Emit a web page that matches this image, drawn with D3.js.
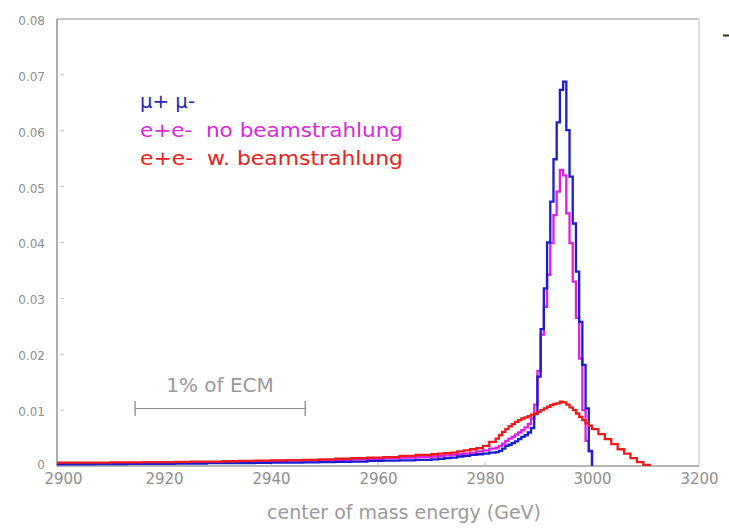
<!DOCTYPE html>
<html>
<head>
<meta charset="utf-8">
<script src="https://cdn.jsdelivr.net/npm/d3@7"></script>
<style>
  body { margin: 0; background: #fff; }
  svg { display: block; }
  text { font-family: "DejaVu Sans", sans-serif; }
</style>
</head>
<body>
<script>
// axis ticks
var xTickValues = [2900, 2920, 2940, 2960, 2980, 3000, 3020];
var xTickLabels = ["2900", "2920", "2940", "2960", "2980", "3000", "3200"];
var yTickValues = [0, 0.01, 0.02, 0.03, 0.04, 0.05, 0.06, 0.07, 0.08];
var yTickLabels = ["0", "0.01", "0.02", "0.03", "0.04", "0.05", "0.06", "0.07", "0.08"];

// histogram bin edges (GeV): coarse in the tail, fine around the peak
var binEdges = [
  2900, 2901, 2904, 2907, 2910, 2913, 2916, 2919, 2922, 2925, 2928, 2931, 2934,
  2937, 2940, 2943, 2946, 2949, 2952, 2955, 2958, 2961, 2964, 2967, 2970,
  2971.2, 2972.4, 2973.6, 2974.8, 2976, 2977.2, 2978.4, 2979.6, 2980.8, 2982,
  2982.6, 2983.2, 2983.8, 2984.4, 2985, 2985.6, 2986.2, 2986.8, 2987.4, 2988,
  2988.6, 2989.2, 2989.8, 2990.4, 2991, 2991.6, 2992.2, 2992.8, 2993.4, 2994,
  2994.6, 2995.2, 2995.8, 2996.4, 2997, 2997.6, 2998.2, 2998.8, 2999.4, 3000,
  3001.2, 3002.4, 3003.6, 3004.8, 3006, 3007.2, 3008.4, 3009.6, 3010.8, 3012
];

// mu+ mu-
var muMu = [
  0.0003,
  0.0003, 0.0003, 0.00035, 0.00035, 0.0004, 0.0004, 0.0004, 0.00045, 0.00045, 0.0005,
  0.0005, 0.0005, 0.00055, 0.0006, 0.0006, 0.00065, 0.0007, 0.00075, 0.0008, 0.0009,
  0.00095, 0.001, 0.0011,
  0.0012, 0.0013, 0.0014, 0.0015, 0.0017, 0.0018, 0.0020, 0.0021, 0.0022, 0.0024,
  0.0025, 0.0027, 0.0031, 0.0036, 0.0038, 0.0041, 0.0044, 0.0048, 0.0052, 0.0055,
  0.0060, 0.0068, 0.0093, 0.0160, 0.0245, 0.0318, 0.0400, 0.0473, 0.0549, 0.0615,
  0.0673, 0.0688, 0.0601, 0.0518, 0.0434, 0.0348, 0.0258, 0.0181, 0.0103, 0.0027,
  0, 0, 0, 0, 0, 0, 0, 0, 0, 0
];

// e+e- no beamstrahlung
var eeNoBeam = [
  0.0005,
  0.0005, 0.0005, 0.0005, 0.00055, 0.00055, 0.0006, 0.0006, 0.00065, 0.0007, 0.0007,
  0.00075, 0.0008, 0.00085, 0.0009, 0.00095, 0.001, 0.00105, 0.0011, 0.0012, 0.0013,
  0.0014, 0.0015, 0.0016,
  0.0017, 0.0018, 0.0019, 0.0020, 0.0021, 0.0022, 0.0024, 0.0026, 0.0028, 0.0031,
  0.0033, 0.0036, 0.0040, 0.0045, 0.0049, 0.0052, 0.0056, 0.0060, 0.0064, 0.0069,
  0.0075, 0.0085, 0.0110, 0.0170, 0.0235, 0.0285, 0.0342, 0.0399, 0.0449, 0.0491,
  0.0530, 0.0520, 0.0452, 0.0399, 0.0330, 0.0265, 0.0192, 0.0100, 0.0045, 0.0026,
  0, 0, 0, 0, 0, 0, 0, 0, 0, 0
];

// e+e- with beamstrahlung
var eeBeam = [
  0.0006,
  0.0006, 0.0006, 0.0006, 0.00065, 0.00065, 0.0007, 0.0007, 0.00075, 0.0008, 0.0008,
  0.00085, 0.0009, 0.00095, 0.001, 0.00105, 0.0011, 0.0012, 0.0013, 0.0014, 0.0015,
  0.0016, 0.0018, 0.0020,
  0.0021, 0.0022, 0.0023, 0.0024, 0.0026, 0.0028, 0.0030, 0.0032, 0.0036, 0.0043,
  0.0049, 0.0055, 0.0061, 0.0066, 0.0071, 0.0075, 0.0079, 0.0082, 0.0085, 0.0087,
  0.0089, 0.0092, 0.0094, 0.0097, 0.0100, 0.0103, 0.0106, 0.0109, 0.0111, 0.0112,
  0.0115, 0.0114, 0.0110, 0.0105, 0.0100, 0.0094, 0.0088, 0.0082, 0.0077, 0.0072,
  0.0066, 0.0057, 0.0048, 0.0039, 0.0030, 0.0022, 0.0014, 0.0007, 0.0002, 0
];

var legendLabels = ["\u03bc+ \u03bc-", "e+e-  no beamstrahlung", "e+e-  w. beamstrahlung"];
var ecmBar = [2914.6, 2946.4];   // "1% of ECM" marker
var ecmLabel = "1% of ECM";
var xTitle = "center of mass energy (GeV)";

var width = 729, height = 532;

var svg = d3.select("body").append("svg")
    .attr("width", width)
    .attr("height", height);

var x = d3.scaleLinear().domain([2900, 3020]).range([57, 699]);
var y = d3.scaleLinear().domain([0, 0.08]).range([466, 19]);

// frame
svg.append("line").attr("x1", 57).attr("x2", 699).attr("y1", 19).attr("y2", 19)
    .attr("stroke", "#b4b4b4").attr("stroke-width", 1.3);
svg.append("line").attr("x1", 699).attr("x2", 699).attr("y1", 19).attr("y2", 466)
    .attr("stroke", "#dcdcdc").attr("stroke-width", 2);
svg.append("line").attr("x1", 57).attr("x2", 57).attr("y1", 19).attr("y2", 466)
    .attr("stroke", "#8c8c8c").attr("stroke-width", 1.4);
svg.append("line").attr("x1", 57).attr("x2", 699).attr("y1", 466).attr("y2", 466)
    .attr("stroke", "#9c9c9c").attr("stroke-width", 1.4);

// small inner tick marks
svg.selectAll(".ytick").data(yTickValues.slice(1, -1)).enter().append("line")
    .attr("class", "ytick")
    .attr("x1", 60).attr("x2", 64)
    .attr("y1", function(d) { return y(d); })
    .attr("y2", function(d) { return y(d); })
    .attr("stroke", "#c4c4c4").attr("stroke-width", 1);
svg.selectAll(".xtick").data(xTickValues.slice(1, -1)).enter().append("line")
    .attr("class", "xtick")
    .attr("x1", function(d) { return x(d); })
    .attr("x2", function(d) { return x(d); })
    .attr("y1", 466).attr("y2", 462)
    .attr("stroke", "#b8b8b8").attr("stroke-width", 1);

// axes labels
var yAxis = svg.append("g")
    .attr("transform", "translate(57,0)")
    .call(d3.axisLeft(y).tickValues(yTickValues)
        .tickFormat(function(d, i) { return yTickLabels[i]; })
        .tickSize(0).tickPadding(12));
yAxis.select(".domain").remove();
yAxis.selectAll("text").attr("fill", "#8e8e8e").style("font-size", "12px")
    .attr("dy", function(d) { return d === 0 ? "0.2em" : "0.45em"; });

var xAxis = svg.append("g")
    .attr("transform", "translate(0,466)")
    .call(d3.axisBottom(x).tickValues(xTickValues)
        .tickFormat(function(d, i) { return xTickLabels[i]; })
        .tickSize(0).tickPadding(7));
xAxis.select(".domain").remove();
xAxis.selectAll("text").attr("fill", "#8e8e8e").style("font-size", "15px")
    .attr("dx", function(d, i) { return i === 0 ? 6 : 0; });

svg.append("text")
    .attr("x", 404).attr("y", 519)
    .attr("text-anchor", "middle")
    .attr("fill", "#9a9a9a")
    .style("font-size", "19px")
    .text(xTitle);

// step histograms
function stepPoints(values) {
  var last = values.length - 1;
  while (last > 0 && values[last] === 0) last--;
  var pts = [];
  for (var i = 0; i <= last; i++) pts.push([binEdges[i], values[i]]);
  pts.push([binEdges[last + 1], values[last]]);
  pts.push([binEdges[last + 1], 0]);
  return pts;
}

var line = d3.line()
    .x(function(d) { return x(d[0]); })
    .y(function(d) { return y(d[1]); })
    .curve(d3.curveStepAfter);

var series = [
  { values: eeNoBeam, color: "#e01fe0" },
  { values: muMu, color: "#1c1cd0" },
  { values: eeBeam, color: "#ee1b1b" }
];

svg.selectAll(".hist").data(series).enter().append("path")
    .attr("class", "hist")
    .attr("d", function(s) { return line(stepPoints(s.values)); })
    .attr("fill", "none")
    .attr("stroke", function(s) { return s.color; })
    .attr("stroke-width", 2.3)
    .attr("stroke-linejoin", "miter");

// legend
var legendColors = ["#2727b8", "#d62ad6", "#e62222"];
var legendWidths = [55, 263, 263];
var legendBase = [108, 136.5, 165];
svg.selectAll(".leg").data(legendLabels).enter().append("text")
    .attr("class", "leg")
    .attr("x", 140)
    .attr("y", function(d, i) { return legendBase[i]; })
    .attr("fill", function(d, i) { return legendColors[i]; })
    .attr("textLength", function(d, i) { return legendWidths[i]; })
    .attr("lengthAdjust", "spacingAndGlyphs")
    .style("font-size", "19px")
    .style("white-space", "pre")
    .text(function(d) { return d; });

// 1% of ECM marker
svg.append("text")
    .attr("x", 220).attr("y", 392)
    .attr("text-anchor", "middle")
    .attr("fill", "#9a9a9a")
    .style("font-size", "20px")
    .text(ecmLabel);
svg.append("line")
    .attr("x1", x(ecmBar[0])).attr("x2", x(ecmBar[1]))
    .attr("y1", 408.5).attr("y2", 408.5)
    .attr("stroke", "#8a8a8a").attr("stroke-width", 1.2);
svg.selectAll(".cap").data(ecmBar).enter().append("line")
    .attr("class", "cap")
    .attr("x1", function(d) { return x(d); })
    .attr("x2", function(d) { return x(d); })
    .attr("y1", 401).attr("y2", 416)
    .attr("stroke", "#9a9a9a").attr("stroke-width", 1.5);

// stray mark at the top right edge
svg.append("line")
    .attr("x1", 723).attr("x2", 729).attr("y1", 35.5).attr("y2", 35.5)
    .attr("stroke", "#3a2a10").attr("stroke-width", 2);
</script>
</body>
</html>
